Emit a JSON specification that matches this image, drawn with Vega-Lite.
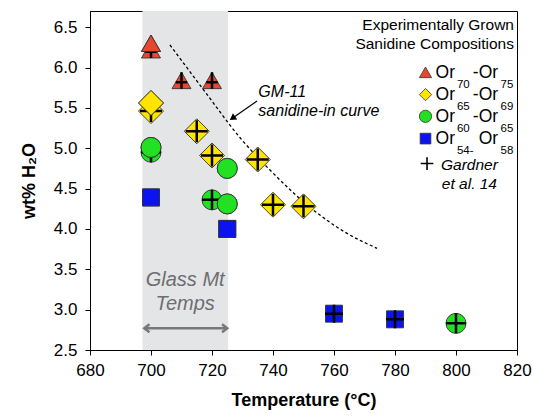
{
  "$schema": "https://vega.github.io/schema/vega-lite/v6.json",
  "width": 427,
  "height": 339,
  "autosize": {"type": "none"},
  "padding": {"left": 90, "top": 11, "right": 16, "bottom": 69},
  "background": "white",
  "config": {
    "font": "Liberation Sans",
    "view": {"stroke": "black", "strokeWidth": 1},
    "axis": {
      "domainColor": "black", "tickColor": "black", "labelColor": "black", "titleColor": "black",
      "grid": false, "tickSize": 5, "labelFontSize": 17, "titleFontSize": 18, "titleFontWeight": "bold",
      "labelFont": "Liberation Sans", "titleFont": "Liberation Sans", "labelFlush": false, "labelOverlap": false
    }
  },
  "datasets": {
    "samples": [
      {"comp": "Or70-75", "T": 700, "H2O": 6.22, "gardner": true},
      {"comp": "Or70-75", "T": 700, "H2O": 6.30, "gardner": false},
      {"comp": "Or70-75", "T": 710, "H2O": 5.84, "gardner": true},
      {"comp": "Or70-75", "T": 720, "H2O": 5.84, "gardner": true},
      {"comp": "Or65-69", "T": 700, "H2O": 5.46, "gardner": true},
      {"comp": "Or65-69", "T": 700, "H2O": 5.56, "gardner": false},
      {"comp": "Or65-69", "T": 715, "H2O": 5.21, "gardner": true},
      {"comp": "Or65-69", "T": 720, "H2O": 4.91, "gardner": true},
      {"comp": "Or65-69", "T": 735, "H2O": 4.86, "gardner": true},
      {"comp": "Or65-69", "T": 740, "H2O": 4.30, "gardner": true},
      {"comp": "Or65-69", "T": 750, "H2O": 4.28, "gardner": true},
      {"comp": "Or60-65", "T": 700, "H2O": 4.95, "gardner": true},
      {"comp": "Or60-65", "T": 700, "H2O": 5.01, "gardner": false},
      {"comp": "Or60-65", "T": 720, "H2O": 4.36, "gardner": true},
      {"comp": "Or60-65", "T": 725, "H2O": 4.75, "gardner": false},
      {"comp": "Or60-65", "T": 725, "H2O": 4.31, "gardner": false},
      {"comp": "Or60-65", "T": 800, "H2O": 2.83, "gardner": true},
      {"comp": "Or54-58", "T": 700, "H2O": 4.39, "gardner": false},
      {"comp": "Or54-58", "T": 725, "H2O": 4.00, "gardner": false},
      {"comp": "Or54-58", "T": 760, "H2O": 2.95, "gardner": true},
      {"comp": "Or54-58", "T": 780, "H2O": 2.88, "gardner": true}
    ],
    "curve": [
      {"T": 706.2, "H2O": 6.28},
      {"T": 717.7, "H2O": 5.70},
      {"T": 729.2, "H2O": 5.13},
      {"T": 739.0, "H2O": 4.73},
      {"T": 754.4, "H2O": 4.20},
      {"T": 763.6, "H2O": 3.96},
      {"T": 774.1, "H2O": 3.76}
    ]
  },
  "layer": [
    {
      "data": {"values": [{}]},
      "mark": {"type": "rect", "fill": "#e4e5e7"},
      "encoding": {
        "x": {"datum": 697.2, "type": "quantitative", "scale": {"domain": [680, 820], "nice": false, "zero": false}},
        "x2": {"datum": 725.3},
        "y": {"datum": 2.5, "type": "quantitative", "scale": {"domain": [2.5, 6.7], "nice": false, "zero": false}},
        "y2": {"datum": 6.7}
      }
    },
    {
      "data": {"name": "curve"},
      "mark": {"type": "line", "stroke": "black", "strokeWidth": 1.3, "strokeDash": [3, 2.5], "interpolate": "monotone"},
      "encoding": {
        "x": {"field": "T", "type": "quantitative"},
        "y": {"field": "H2O", "type": "quantitative"}
      }
    },
    {
      "data": {"values": [{}]},
      "mark": {"type": "rule", "stroke": "black", "strokeWidth": 1.2},
      "encoding": {
        "x": {"datum": 734.75, "type": "quantitative"},
        "y": {"datum": 5.584, "type": "quantitative"},
        "x2": {"datum": 727.0},
        "y2": {"datum": 5.38}
      }
    },
    {
      "data": {"values": [{}]},
      "mark": {"type": "point", "shape": "triangle-up", "filled": true, "fill": "black", "stroke": null, "size": 55, "angle": 235, "opacity": 1},
      "encoding": {
        "x": {"datum": 726.7, "type": "quantitative"},
        "y": {"datum": 5.372, "type": "quantitative"}
      }
    },
    {
      "data": {"values": [{}]},
      "mark": {"type": "rule", "stroke": "#77787b", "strokeWidth": 2.5},
      "encoding": {
        "x": {"datum": 697.8, "type": "quantitative"},
        "x2": {"datum": 725.0},
        "y": {"datum": 2.769, "type": "quantitative"}
      }
    },
    {
      "data": {"values": [{}]},
      "mark": {"type": "point", "shape": "M1.3,-1L0,0L1.3,1", "filled": false, "stroke": "#77787b", "strokeWidth": 2.5, "size": 64, "opacity": 1},
      "encoding": {
        "x": {"datum": 697.8, "type": "quantitative"},
        "y": {"datum": 2.769, "type": "quantitative"}
      }
    },
    {
      "data": {"values": [{}]},
      "mark": {"type": "point", "shape": "M-1.3,-1L0,0L-1.3,1", "filled": false, "stroke": "#77787b", "strokeWidth": 2.5, "size": 64, "opacity": 1},
      "encoding": {
        "x": {"datum": 725.0, "type": "quantitative"},
        "y": {"datum": 2.769, "type": "quantitative"}
      }
    },
    {
      "data": {"values": [{}]},
      "mark": {"type": "text", "text": ["Glass Mt", "Temps"], "align": "center", "baseline": "alphabetic", "fontSize": 20, "fontStyle": "italic", "lineHeight": 24, "fill": "#6d6e70"},
      "encoding": {
        "x": {"datum": 711.2, "type": "quantitative"},
        "y": {"datum": 3.293, "type": "quantitative"}
      }
    },
    {
      "data": {"values": [{}]},
      "mark": {"type": "text", "text": ["GM-11", "sanidine-in curve"], "align": "left", "baseline": "alphabetic", "fontSize": 16, "fontStyle": "italic", "lineHeight": 19.3, "fill": "black"},
      "encoding": {
        "x": {"datum": 735.2, "type": "quantitative"},
        "y": {"datum": 5.637, "type": "quantitative"}
      }
    },
    {
      "data": {"name": "samples"},
      "mark": {"type": "point", "filled": true, "stroke": "#333333", "strokeWidth": 0.9, "opacity": 1},
      "encoding": {
        "x": {"field": "T", "type": "quantitative", "scale": {"domain": [680, 820], "nice": false, "zero": false},
              "axis": {"title": "Temperature (°C)", "values": [680, 700, 720, 740, 760, 780, 800, 820], "labelPadding": 7, "titlePadding": 13}},
        "y": {"field": "H2O", "type": "quantitative", "scale": {"domain": [2.5, 6.7], "nice": false, "zero": false},
              "axis": {"title": "wt% H₂O", "values": [2.5, 3, 3.5, 4, 4.5, 5, 5.5, 6, 6.5], "format": ".1f", "labelPadding": 8, "titlePadding": 15}},
        "shape": {"field": "comp", "type": "nominal", "scale": {"domain": ["Or70-75", "Or65-69", "Or60-65", "Or54-58"], "range": ["triangle-up", "diamond", "circle", "square"]}, "legend": null},
        "fill": {"field": "comp", "type": "nominal", "scale": {"domain": ["Or70-75", "Or65-69", "Or60-65", "Or54-58"], "range": ["#e8472f", "#ffe400", "#22e022", "#0a14f0"]}, "legend": null},
        "size": {"field": "comp", "type": "nominal", "scale": {"type": "ordinal", "domain": ["Or70-75", "Or65-69", "Or60-65", "Or54-58"], "range": [360, 625, 400, 289]}, "legend": null}
      }
    },
    {
      "data": {"name": "samples"},
      "transform": [{"filter": "datum.gardner"}],
      "mark": {"type": "point", "filled": false, "stroke": "black", "strokeWidth": 2.5, "opacity": 1},
      "encoding": {
        "x": {"field": "T", "type": "quantitative"},
        "y": {"field": "H2O", "type": "quantitative"},
        "shape": {"field": "comp", "type": "nominal", "scale": {"domain": ["Or70-75", "Or65-69", "Or60-65", "Or54-58"], "range": ["M-0.6,0.2L0.6,0.2M0,-0.87L0,0.87", "M-1,0L1,0M0,-1L0,1", "M-1,0L1,0M0,-1L0,1", "M-1,0L1,0M0,-1L0,1"]}, "legend": null},
        "size": {"field": "comp", "type": "nominal", "scale": {"type": "ordinal", "domain": ["Or70-75", "Or65-69", "Or60-65", "Or54-58"], "range": [360, 484, 400, 324]}, "legend": null}
      }
    },
    {
      "data": {"name": "samples"},
      "transform": [{"filter": "!datum.gardner && (datum.T == 700 || datum.T == 725)"}],
      "mark": {"type": "point", "filled": true, "stroke": "#333333", "strokeWidth": 0.9, "opacity": 1},
      "encoding": {
        "x": {"field": "T", "type": "quantitative"},
        "y": {"field": "H2O", "type": "quantitative"},
        "shape": {"field": "comp", "type": "nominal", "scale": {"domain": ["Or70-75", "Or65-69", "Or60-65", "Or54-58"], "range": ["triangle-up", "diamond", "circle", "square"]}, "legend": null},
        "fill": {"field": "comp", "type": "nominal", "scale": {"domain": ["Or70-75", "Or65-69", "Or60-65", "Or54-58"], "range": ["#e8472f", "#ffe400", "#22e022", "#0a14f0"]}, "legend": null},
        "size": {"field": "comp", "type": "nominal", "scale": {"type": "ordinal", "domain": ["Or70-75", "Or65-69", "Or60-65", "Or54-58"], "range": [360, 625, 400, 289]}, "legend": null}
      }
    },
    {
      "data": {"values": [{}]},
      "mark": {"type": "text", "text": ["Experimentally Grown", "Sanidine Compositions"], "align": "right", "baseline": "alphabetic", "fontSize": 15.5, "lineHeight": 19.3, "fill": "black"},
      "encoding": {
        "x": {"datum": 819.0, "type": "quantitative"},
        "y": {"datum": 6.463, "type": "quantitative"}
      }
    },
    {
      "data": {"values": [{}]},
      "mark": {"type": "point", "shape": "triangle-up", "filled": true, "fill": "#e8472f", "stroke": "#333333", "strokeWidth": 0.8, "size": 150, "opacity": 1},
      "encoding": {"x": {"datum": 790.0, "type": "quantitative"}, "y": {"datum": 5.94, "type": "quantitative"}}
    },
    {
      "data": {"values": [{}]},
      "mark": {"type": "point", "shape": "diamond", "filled": true, "fill": "#ffe400", "stroke": "#333333", "strokeWidth": 0.8, "size": 150, "opacity": 1},
      "encoding": {"x": {"datum": 790.0, "type": "quantitative"}, "y": {"datum": 5.664, "type": "quantitative"}}
    },
    {
      "data": {"values": [{}]},
      "mark": {"type": "point", "shape": "circle", "filled": true, "fill": "#22e022", "stroke": "#333333", "strokeWidth": 0.8, "size": 150, "opacity": 1},
      "encoding": {"x": {"datum": 790.0, "type": "quantitative"}, "y": {"datum": 5.395, "type": "quantitative"}}
    },
    {
      "data": {"values": [{}]},
      "mark": {"type": "point", "shape": "square", "filled": true, "fill": "#0a14f0", "stroke": "#333333", "strokeWidth": 0.8, "size": 115, "opacity": 1},
      "encoding": {"x": {"datum": 790.0, "type": "quantitative"}, "y": {"datum": 5.119, "type": "quantitative"}}
    },
    {
      "data": {"values": [{}]},
      "mark": {"type": "text", "text": ["Or", "Or", "Or", "Or"], "align": "left", "baseline": "alphabetic", "fontSize": 17.5, "lineHeight": 22.1, "fill": "black"},
      "encoding": {"x": {"datum": 793.3, "type": "quantitative"}, "y": {"datum": 5.872, "type": "quantitative"}}
    },
    {
      "data": {"values": [{}]},
      "mark": {"type": "text", "text": ["70", "65", "60", "54-"], "align": "left", "baseline": "alphabetic", "fontSize": 11.5, "lineHeight": 22.1, "fill": "black"},
      "encoding": {"x": {"datum": 800.3, "type": "quantitative"}, "y": {"datum": 5.752, "type": "quantitative"}}
    },
    {
      "data": {"values": [{}]},
      "mark": {"type": "text", "text": ["-Or", "-Or", "-Or", "Or"], "align": "right", "baseline": "alphabetic", "fontSize": 17.5, "lineHeight": 22.1, "fill": "black"},
      "encoding": {"x": {"datum": 813.8, "type": "quantitative"}, "y": {"datum": 5.872, "type": "quantitative"}}
    },
    {
      "data": {"values": [{}]},
      "mark": {"type": "text", "text": ["75", "69", "65", "58"], "align": "left", "baseline": "alphabetic", "fontSize": 11.5, "lineHeight": 22.1, "fill": "black"},
      "encoding": {"x": {"datum": 814.6, "type": "quantitative"}, "y": {"datum": 5.752, "type": "quantitative"}}
    },
    {
      "data": {"values": [{}]},
      "mark": {"type": "point", "shape": "M-1,0L1,0M0,-1L0,1", "filled": false, "stroke": "black", "strokeWidth": 1.6, "size": 160, "opacity": 1},
      "encoding": {"x": {"datum": 790.5, "type": "quantitative"}, "y": {"datum": 4.81, "type": "quantitative"}}
    },
    {
      "data": {"values": [{}]},
      "mark": {"type": "text", "text": ["Gardner", "et al. 14"], "align": "center", "baseline": "alphabetic", "fontSize": 15.5, "fontStyle": "italic", "lineHeight": 19, "fill": "black"},
      "encoding": {"x": {"datum": 804.4, "type": "quantitative"}, "y": {"datum": 4.73, "type": "quantitative"}}
    }
  ],
  "resolve": {"scale": {"size": "independent", "shape": "independent"}}
}
